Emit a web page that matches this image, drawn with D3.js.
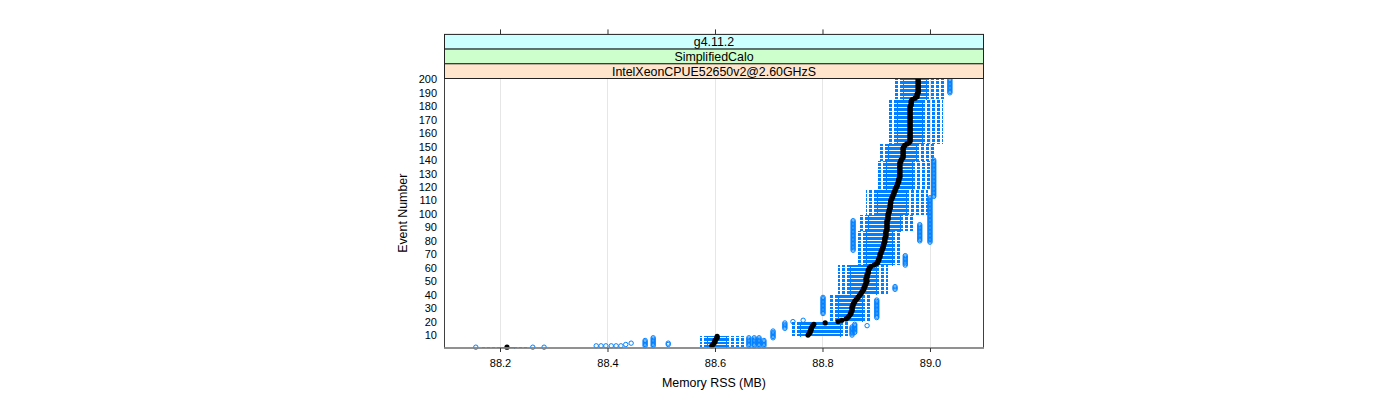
<!DOCTYPE html>
<html><head><meta charset="utf-8">
<script src="https://cdn.jsdelivr.net/npm/d3@7"></script>
<style>body{margin:0;background:#fff}svg{display:block}</style>
</head><body><svg id="c" width="1400" height="400"></svg>
<script>
// ---------- data ----------
const xTicks = [88.2, 88.4, 88.6, 88.8, 89.0];
const yTicks = [10,20,30,40,50,60,70,80,90,100,110,120,130,140,150,160,170,180,190,200];
const stripLabels = ["g4.11.2", "SimplifiedCalo", "IntelXeonCPUE52650v2@2.60GHzS"];
const xTitle = "Memory RSS (MB)";
const yTitle = "Event Number";

// box statistics, per run of events with the same spread
const blockFirst  = [1, 2, 10, 21, 41, 63, 88, 100, 119, 140, 153, 186];
const blockLast   = [1, 9, 20, 40, 62, 87, 99, 118, 139, 152, 185, 200];
const whiskerLow  = [88.167, 88.572, 88.740, 88.814, 88.829, 88.866, 88.866, 88.881, 88.901, 88.903, 88.924, 88.931];
const boxLow      = [88.200, 88.585, 88.758, 88.829, 88.851, 88.881, 88.885, 88.901, 88.918, 88.922, 88.939, 88.950];
const boxHigh     = [88.226, 88.621, 88.833, 88.874, 88.900, 88.929, 88.944, 88.955, 88.967, 88.974, 88.985, 88.993];
const whiskerHigh = [88.252, 88.656, 88.851, 88.892, 88.922, 88.944, 88.972, 88.996, 89.000, 89.009, 89.024, 89.030];

// median per event (1..200)
const medians = [
 88.213, 88.594, 88.596, 88.598, 88.600, 88.600, 88.602, 88.604, 88.604, 88.773,
 88.775, 88.777, 88.777, 88.779, 88.779, 88.780, 88.782, 88.784, 88.805, 88.829,
 88.836, 88.844, 88.847, 88.849, 88.851, 88.853, 88.853, 88.855, 88.855, 88.855,
 88.855, 88.857, 88.857, 88.859, 88.860, 88.862, 88.864, 88.866, 88.868, 88.870,
 88.872, 88.873, 88.875, 88.877, 88.877, 88.879, 88.879, 88.881, 88.881, 88.883,
 88.881, 88.881, 88.883, 88.883, 88.883, 88.885, 88.885, 88.885, 88.887, 88.887,
 88.890, 88.896, 88.900, 88.903, 88.903, 88.905, 88.905, 88.907, 88.907, 88.907,
 88.909, 88.909, 88.911, 88.911, 88.913, 88.913, 88.914, 88.914, 88.916, 88.916,
 88.916, 88.916, 88.918, 88.918, 88.918, 88.918, 88.918, 88.920, 88.920, 88.920,
 88.920, 88.920, 88.920, 88.920, 88.920, 88.922, 88.922, 88.922, 88.922, 88.922,
 88.924, 88.924, 88.924, 88.926, 88.926, 88.926, 88.926, 88.927, 88.927, 88.927,
 88.929, 88.929, 88.931, 88.931, 88.933, 88.933, 88.935, 88.935, 88.937, 88.937,
 88.939, 88.940, 88.940, 88.942, 88.942, 88.942, 88.944, 88.944, 88.944, 88.944,
 88.944, 88.944, 88.944, 88.944, 88.944, 88.944, 88.944, 88.944, 88.946, 88.946,
 88.948, 88.950, 88.950, 88.950, 88.950, 88.950, 88.950, 88.950, 88.950, 88.952,
 88.953, 88.957, 88.961, 88.963, 88.963, 88.963, 88.963, 88.963, 88.963, 88.963,
 88.963, 88.963, 88.963, 88.963, 88.963, 88.963, 88.963, 88.963, 88.963, 88.963,
 88.963, 88.963, 88.963, 88.963, 88.963, 88.963, 88.963, 88.963, 88.963, 88.963,
 88.965, 88.965, 88.965, 88.965, 88.967, 88.972, 88.976, 88.976, 88.976, 88.978,
 88.978, 88.978, 88.978, 88.978, 88.978, 88.978, 88.978, 88.978, 88.978, 88.978
];

// outliers: a column of circles at one value over a run of events
const outFirst = [1, 1, 1, 2, 2, 2, 2, 2, 2, 3, 4, 2, 2, 3, 2, 2, 2, 2, 8, 15, 20, 21, 10, 12, 17, 26, 23, 44, 62, 73, 80, 79, 113, 190];
const outLast  = [1, 1, 1, 2, 2, 2, 2, 2, 2, 3, 4, 6, 8, 4, 8, 8, 8, 6, 13, 19, 20, 21, 16, 18, 17, 38, 36, 46, 69, 95, 92, 112, 140, 200];
const outValue = [88.155, 88.261, 88.282, 88.379, 88.388, 88.397, 88.407, 88.416, 88.425, 88.434, 88.444, 88.470, 88.485, 88.513,
                  88.663, 88.673, 88.682, 88.691, 88.708, 88.730, 88.745, 88.764, 88.855, 88.860, 88.883,
                  88.801, 88.901, 88.935, 88.954, 88.857, 88.981, 89.000, 89.007, 89.037];

// ---------- build rows ----------
const rows = [];
blockFirst.forEach((f, b) => {
  for (let e = f; e <= blockLast[b]; e++) {
    rows.push({e, lo: whiskerLow[b], q1: boxLow[b], med: medians[e - 1], q3: boxHigh[b], hi: whiskerHigh[b]});
  }
});
const outliers = [];
outFirst.forEach((f, i) => {
  for (let e = f; e <= outLast[i]; e++) outliers.push({e, v: outValue[i]});
});

// ---------- layout ----------
const L = 444, R = 984, T = 78.5, B = 348;
const stripH = 14.7;
const svg = d3.select("#c");
const font = "'Liberation Sans', Arial, Helvetica, sans-serif";
const blue = "#0080ff";

const x = d3.scaleLinear().domain([88.0958, 89.1005]).range([L, R]);
const y = d3.scaleLinear().domain([0.4, 200.6]).range([B, T]);
const py = e => Math.round(y(e)) + 0.5;

svg.append("rect").attr("width", 1400).attr("height", 400).attr("fill", "#fff");

// grid
svg.append("g").selectAll("line").data(xTicks).join("line")
  .attr("x1", d => Math.round(x(d)) + 0.5).attr("x2", d => Math.round(x(d)) + 0.5)
  .attr("y1", T).attr("y2", B)
  .attr("stroke", "#e6e6e6").attr("stroke-width", 1);

const plot = svg.append("g").attr("shape-rendering", "crispEdges");

// boxes (thin: their top and bottom edges fall on one pixel row)
const bg = plot.append("g").attr("stroke", blue).attr("stroke-width", 1);
bg.selectAll("line.b").data(rows).join("line").attr("class", "b")
  .attr("x1", d => x(d.q1)).attr("x2", d => x(d.q3))
  .attr("y1", d => py(d.e)).attr("y2", d => py(d.e));
bg.selectAll("line.e1").data(rows).join("line").attr("class", "e1")
  .attr("x1", d => Math.round(x(d.q1)) + 0.5).attr("x2", d => Math.round(x(d.q1)) + 0.5)
  .attr("y1", d => py(d.e) - 1).attr("y2", d => py(d.e) + 1);
bg.selectAll("line.e2").data(rows).join("line").attr("class", "e2")
  .attr("x1", d => Math.round(x(d.q3)) + 0.5).attr("x2", d => Math.round(x(d.q3)) + 0.5)
  .attr("y1", d => py(d.e) - 1).attr("y2", d => py(d.e) + 1);

// whiskers (dashed, drawn outward from the box)
const wg = plot.append("g").attr("stroke", blue).attr("stroke-width", 1).attr("stroke-dasharray", "3,2");
wg.selectAll("line.l").data(rows).join("line").attr("class", "l")
  .attr("x1", d => x(d.q1)).attr("x2", d => x(d.lo))
  .attr("y1", d => py(d.e)).attr("y2", d => py(d.e));
wg.selectAll("line.h").data(rows).join("line").attr("class", "h")
  .attr("x1", d => x(d.q3)).attr("x2", d => x(d.hi))
  .attr("y1", d => py(d.e)).attr("y2", d => py(d.e));

// outliers
svg.append("g").selectAll("circle").data(outliers).join("circle")
  .attr("cx", d => x(d.v)).attr("cy", d => y(d.e)).attr("r", 2.2)
  .attr("fill", "none").attr("stroke", blue).attr("stroke-width", 1);

// medians
svg.append("g").selectAll("circle").data(rows).join("circle")
  .attr("cx", d => x(d.med)).attr("cy", d => y(d.e)).attr("r", 2.6)
  .attr("fill", "#000");

// panel border
svg.append("rect").attr("x", L + 0.5).attr("y", T).attr("width", R - L - 1).attr("height", B - T)
  .attr("fill", "none").attr("stroke", "#404040").attr("stroke-width", 1);
svg.append("line").attr("x1", L).attr("x2", R).attr("y1", B).attr("y2", B)
  .attr("stroke", "#8c8c8c").attr("stroke-width", 1.6);

// strips (outermost at top)
stripLabels.forEach((lab, i) => {
  const fills = ["#ccffff", "#ccffcc", "#ffe5cc"];
  const y0 = T - (3 - i) * stripH;
  svg.append("rect").attr("x", L + 0.5).attr("y", y0).attr("width", R - L - 1).attr("height", stripH)
    .attr("fill", fills[i]).attr("stroke", "#222").attr("stroke-width", 1);
  svg.append("text").attr("x", (L + R) / 2).attr("y", y0 + stripH / 2).attr("dy", "0.36em")
    .attr("text-anchor", "middle").attr("font-family", font).attr("font-size", 12.4).attr("fill", "#000")
    .text(lab);
});

// axes
const ax = svg.append("g").attr("transform", `translate(0,${B})`)
  .call(d3.axisBottom(x).tickValues(xTicks).tickFormat(d3.format(".1f")).tickSize(4).tickPadding(7));
ax.select(".domain").remove();
ax.selectAll("text").attr("font-family", font).attr("font-size", 11).attr("fill", "#000");
ax.selectAll("line").attr("stroke", "#333");

const at = svg.append("g").attr("transform", `translate(0,${T - 3 * stripH})`)
  .call(d3.axisTop(x).tickValues(xTicks).tickFormat("").tickSize(5));
at.select(".domain").remove();
at.selectAll("line").attr("stroke", "#333");

const ay = svg.append("g").attr("transform", `translate(${L},0)`)
  .call(d3.axisLeft(y).tickValues(yTicks).tickSize(0).tickPadding(7));
ay.select(".domain").remove();
ay.selectAll("text").attr("font-family", font).attr("font-size", 11).attr("fill", "#000");

// titles
svg.append("text").attr("x", (L + R) / 2).attr("y", 387).attr("text-anchor", "middle")
  .attr("font-family", font).attr("font-size", 12.4).attr("fill", "#000").text(xTitle);
svg.append("text").attr("transform", `translate(407,${(T + B) / 2}) rotate(-90)`).attr("text-anchor", "middle")
  .attr("font-family", font).attr("font-size", 12.4).attr("fill", "#000").text(yTitle);
</script></body></html>
